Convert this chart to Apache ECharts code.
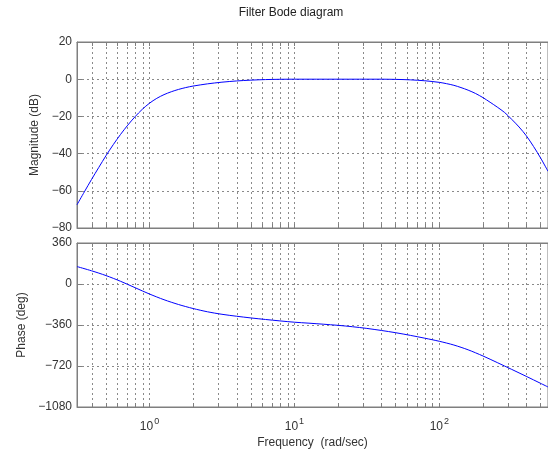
<!DOCTYPE html>
<html>
<head>
<meta charset="utf-8">
<script src="https://cdn.jsdelivr.net/npm/echarts@6/dist/echarts.min.js"></script>
<style>
  html, body { margin: 0; padding: 0; background: #fff; }
  #chart { width: 548px; height: 453px; }
</style>
</head>
<body>
<div id="chart"></div>
<script>
// magnitude curve (rad/sec, dB)
const magFreq = [0.316, 0.355, 0.398, 0.447, 0.501, 0.562, 0.631, 0.708, 0.794, 0.891, 1.0, 1.122, 1.259, 1.413, 1.585, 1.778, 1.995, 2.512, 3.162, 3.981, 5.012, 6.31, 7.94, 10,
                 20, 39.8, 50.1, 63.1, 79.4, 100, 112, 126, 141, 158, 178, 200, 224, 251, 282, 316, 355, 398, 447, 501, 562];
const magDb = [-67.5, -60.6, -53.9, -47.4, -41.1, -35.2, -29.7, -24.7, -20.2, -16.2, -12.9, -10.3, -8.3, -6.75, -5.5, -4.5, -3.7, -2.5, -1.6, -0.95, -0.5, -0.2, -0.05, 0,
               0, 0, -0.1, -0.35, -0.85, -1.7, -2.4, -3.3, -4.5, -5.9, -7.7, -9.9, -12.4, -15.0, -17.9, -21.6, -25.7, -30.4, -36.2, -42.5, -49.5];

// phase curve (rad/sec, deg)
const phaseFreq = [0.316, 0.398, 0.501, 0.631, 0.794, 1.0, 1.259, 1.585, 1.995, 2.512, 3.162, 3.981, 5.012, 6.31, 7.94, 10,
                   12.6, 15.8, 20, 25.1, 31.6, 39.8, 50.1, 63.1, 79.4, 100, 126, 158, 200, 251, 316, 398, 501, 562];
const phaseDeg = [153, 116, 74, 24, -32, -88, -138, -180, -215, -244, -266, -283, -298, -311.5, -324, -335.5,
                  -344, -353, -363, -375, -390, -408, -428, -451, -476, -503, -536, -578, -632, -690, -750, -811, -873, -904];

const magTicks = [-80, -60, -40, -20, 0, 20];
const phaseTicks = [-1080, -720, -360, 0, 360];
const decadeLabels = [1, 10, 100];
const fMin = 0.316, fMax = 562;

// grid line positions: 1..9 x 10^k inside the range
const gridFreqs = [];
for (let k = -1; k <= 2; k++) {
    for (let m = 1; m <= 9; m++) {
        const f = m * Math.pow(10, k);
        if (f >= fMin && f <= fMax) gridFreqs.push(+f.toPrecision(3));
    }
}

const textColor = '#333';
const boxColor = '#7f7f7f';
const dotted = { color: '#8a8a8a', width: 1, type: [2, 3] };
const fontFamily = 'Liberation Sans, Arial, sans-serif';

const minus = v => String(v).replace('-', '\u2212');

function xAxisFor(gridIndex, showLabels) {
    return {
        type: 'log',
        logBase: 10,
        gridIndex: gridIndex,
        min: fMin,
        max: fMax,
        axisLine: { show: true, onZero: false, lineStyle: { color: boxColor } },
        axisTick: { show: true, inside: true, length: 4, customValues: gridFreqs, lineStyle: { color: boxColor } },
        splitLine: { show: true, lineStyle: dotted },
        axisLabel: {
            show: showLabels,
            customValues: decadeLabels,
            margin: 10,
            formatter: v => '{b|10}{s|' + Math.round(Math.log10(v)) + '}',
            rich: {
                b: { fontSize: 12, color: textColor, fontFamily: fontFamily, verticalAlign: 'bottom' },
                s: { fontSize: 9, color: textColor, fontFamily: fontFamily, verticalAlign: 'bottom', padding: [0, 0, 7, 1] }
            }
        },
        name: showLabels ? 'Frequency  (rad/sec)' : '',
        nameLocation: 'middle',
        nameGap: 30,
        nameTextStyle: { fontSize: 12, color: textColor, fontFamily: fontFamily }
    };
}

// ticks along the top edge of each box
function topAxisFor(gridIndex) {
    return {
        type: 'log',
        logBase: 10,
        gridIndex: gridIndex,
        position: 'top',
        min: fMin,
        max: fMax,
        axisLine: { show: true, onZero: false, lineStyle: { color: boxColor } },
        axisTick: { show: true, inside: true, length: 4, customValues: gridFreqs, lineStyle: { color: boxColor } },
        splitLine: { show: false },
        axisLabel: { show: false }
    };
}

function yAxisFor(gridIndex, min, max, interval, name) {
    return {
        type: 'value',
        gridIndex: gridIndex,
        min: min,
        max: max,
        interval: interval,
        axisLine: { show: true, lineStyle: { color: boxColor } },
        axisTick: { show: true, inside: true, length: 5, lineStyle: { color: boxColor } },
        splitLine: { show: true, lineStyle: dotted },
        axisLabel: { fontSize: 12, color: textColor, fontFamily: fontFamily, margin: 5, formatter: minus },
        name: name,
        nameLocation: 'middle',
        nameGap: 36,
        nameRotate: 90,
        nameTextStyle: { fontSize: 12, color: textColor, fontFamily: fontFamily }
    };
}

const chart = echarts.init(document.getElementById('chart'));

const option = {
    backgroundColor: '#fff',
    animation: false,
    graphic: [{
        type: 'text',
        x: 291,
        y: 13,
        style: { text: 'Filter Bode diagram', fontSize: 12, fill: '#222', fontFamily: fontFamily, align: 'center', verticalAlign: 'middle' }
    }],
    grid: [
        { left: 77, top: 42, width: 472, height: 186, show: true, borderColor: boxColor, borderWidth: 1, backgroundColor: 'transparent' },
        { left: 77, top: 243, width: 472, height: 164, show: true, borderColor: boxColor, borderWidth: 1, backgroundColor: 'transparent' }
    ],
    xAxis: [xAxisFor(0, false), xAxisFor(1, true), topAxisFor(0), topAxisFor(1)],
    yAxis: [
        yAxisFor(0, -80, 20, 20, 'Magnitude (dB)'),
        yAxisFor(1, -1080, 360, 360, 'Phase (deg)')
    ],
    series: [
        {
            type: 'line',
            xAxisIndex: 0,
            yAxisIndex: 0,
            data: magFreq.map((f, i) => [f, magDb[i]]),
            showSymbol: false,
            smooth: 0.3,
            lineStyle: { color: '#0000ff', width: 1 }
        },
        {
            type: 'line',
            xAxisIndex: 1,
            yAxisIndex: 1,
            data: phaseFreq.map((f, i) => [f, phaseDeg[i]]),
            showSymbol: false,
            smooth: 0.3,
            lineStyle: { color: '#0000ff', width: 1 }
        }
    ]
};

chart.setOption(option);
</script>
</body>
</html>
